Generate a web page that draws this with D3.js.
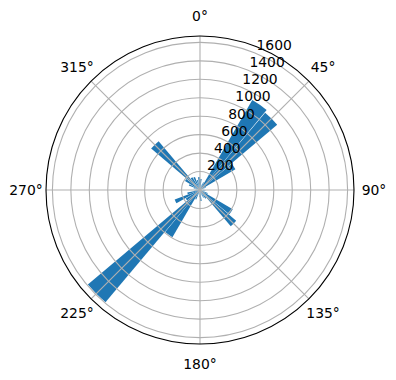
<!DOCTYPE html>
<html>
<head>
<meta charset="utf-8">
<script src="https://cdn.jsdelivr.net/npm/d3@7"></script>
<style>
body{margin:0;background:#fff}
text{font-family:"DejaVu Sans",sans-serif;font-size:13.9px;fill:#000}
</style>
</head>
<body>
<svg id="chart" width="396" height="380"></svg>
<script>
// bin centres in degrees (clockwise from north), 10 degree bins
var binCentres = [5,15,25,35,45,55,65,75,85,95,105,115,125,135,145,155,165,175,
                  185,195,205,215,225,235,245,255,265,275,285,295,305,315,325,335,345,355]
var counts = [120,60,90,1128,1095,445,70,50,40,60,50,90,412,515,110,90,60,120,
              80,50,110,592,1590,180,293,140,60,50,70,130,190,694,160,150,110,140]
var rTicks = [200,400,600,800,1000,1200,1400,1600]
var thetaTicks = [0,45,90,135,180,225,270,315]

var svg = d3.select("#chart")
var cx = 200, cy = 190, R = 154
var g = svg.append("g").attr("transform","translate("+cx+","+cy+")")

var rMax = d3.max(counts)*1.05
var r = d3.scaleLinear().domain([0,rMax]).range([0,R])
var ang = d3.scaleLinear().domain([0,360]).range([0,2*Math.PI])
var binW = 10

var arc = d3.arc()
	.innerRadius(0)
	.outerRadius(function(d){return r(d.v)})
	.startAngle(function(d){return ang(d.c-binW/2)})
	.endAngle(function(d){return ang(d.c+binW/2)})
	.padAngle(0.006).padRadius(100)

g.selectAll(".bar").data(binCentres.map(function(c,i){return {c:c,v:counts[i]}}))
	.enter().append("path").attr("class","bar")
	.attr("d",arc).attr("fill","#1f77b4")

// grid on top of bars, like matplotlib
g.selectAll(".ring").data(rTicks).enter().append("circle")
	.attr("r",function(d){return r(d)})
	.attr("fill","none").attr("stroke","#b0b0b0").attr("stroke-width",1.1)

g.selectAll(".spoke").data(thetaTicks).enter().append("line")
	.attr("x1",0).attr("y1",0)
	.attr("x2",function(d){return R*Math.sin(ang(d))})
	.attr("y2",function(d){return -R*Math.cos(ang(d))})
	.attr("stroke","#b0b0b0").attr("stroke-width",1.1)

g.append("circle").attr("r",R).attr("fill","none").attr("stroke","#000").attr("stroke-width",1.1)

// angular labels
var labR = 174
g.selectAll(".tlab").data(thetaTicks).enter().append("text")
	.attr("x",function(d){return labR*Math.sin(ang(d))})
	.attr("y",function(d){return -labR*Math.cos(ang(d))+5})
	.attr("text-anchor","middle")
	.text(function(d){return d+"°"})

// radial labels at 22.5 degrees
var rlab = ang(22.5)
g.selectAll(".rlab").data(rTicks).enter().append("text")
	.attr("x",function(d){return r(d)*Math.sin(rlab)})
	.attr("y",function(d){return -r(d)*Math.cos(rlab)-3.3})
	.attr("text-anchor","start")
	.text(function(d){return d})
</script>
</body>
</html>
